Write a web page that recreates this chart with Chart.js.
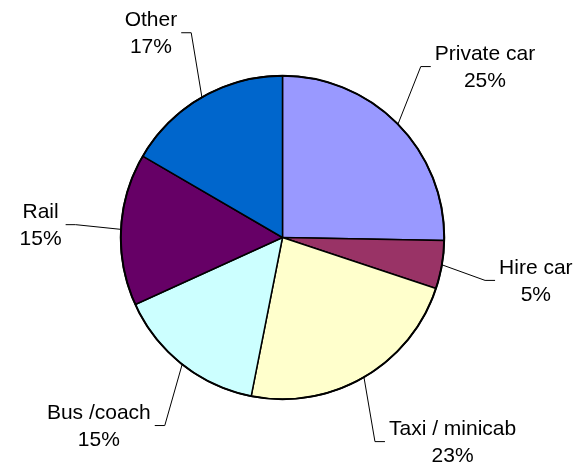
<!DOCTYPE html>
<html lang="en">
<head>
    <meta charset="UTF-8">
    <title>Transport share pie</title>
    <style>
        body {
            margin: 0;
            background: #ffffff;
        }
        canvas {
            display: block;
        }
    </style>
    <script src="https://cdn.jsdelivr.net/npm/chart.js"></script>
</head>
<body>

    <canvas id="pieChart" width="576" height="469"></canvas>

    <script>
        // data, clockwise from 12 o'clock
        const categories = ['Private car', 'Hire car', 'Taxi / minicab', 'Bus /coach', 'Rail', 'Other'];
        const shares = [25.3, 4.8, 23.0, 15.1, 15.2, 16.6];
        const sliceColors = ['#9999FF', '#993366', '#FFFFCC', '#CCFFFF', '#660066', '#0066CC'];

        // outside labels with a leader line, drawn after the slices
        const outsideLabels = {
            id: 'outsideLabels',
            afterDatasetsDraw(chart) {
                const ctx = chart.ctx;
                const arcs = chart.getDatasetMeta(0).data;
                const total = shares.reduce((a, b) => a + b, 0);
                const lineH = 27;
                const halfH = lineH / 2 + 8;

                ctx.save();
                // heavier outer rim like the original
                const a0 = arcs[0];
                ctx.beginPath();
                ctx.arc(a0.x, a0.y, a0.outerRadius, 0, Math.PI * 2);
                ctx.lineWidth = 2;
                ctx.strokeStyle = '#000';
                ctx.stroke();

                ctx.font = '21px "Liberation Sans", Arial, sans-serif';
                ctx.fillStyle = '#000';
                ctx.textAlign = 'center';
                ctx.textBaseline = 'middle';
                ctx.lineWidth = 1;

                arcs.forEach((arc, i) => {
                    const mid = (arc.startAngle + arc.endAngle) / 2;
                    const cx = arc.x, cy = arc.y, r = arc.outerRadius;
                    const dx = Math.cos(mid), dy = Math.sin(mid);

                    const line1 = categories[i];
                    const line2 = Math.round(shares[i] / total * 100) + '%';
                    const w = Math.max(ctx.measureText(line1).width, ctx.measureText(line2).width);

                    // nearest corner of the label box sits outside the rim,
                    // a little further out for the side labels
                    const gap = 48 + 12 * (1 - Math.abs(dy));
                    const ax = cx + dx * (r + gap);
                    const ay = cy + dy * (r + gap);
                    const side = dx >= 0 ? 1 : -1;
                    const vy = Math.max(-1, Math.min(1, dy * 1.6));
                    const lx = ax + side * w / 2;
                    const ly = ay + vy * halfH;

                    ctx.fillText(line1, lx, ly - lineH / 2 + 1);
                    ctx.fillText(line2, lx, ly + lineH / 2 + 1);

                    // leader line: pie edge -> short horizontal stub -> label side
                    const sideX = ax - side * 4;
                    const stubX = sideX - side * 10;
                    ctx.beginPath();
                    ctx.moveTo(cx + dx * r, cy + dy * r);
                    ctx.lineTo(stubX, ly);
                    ctx.lineTo(sideX, ly);
                    ctx.stroke();
                });
                ctx.restore();
            }
        };

        const ctx = document.getElementById('pieChart').getContext('2d');
        new Chart(ctx, {
            type: 'pie',
            data: {
                labels: categories,
                datasets: [{
                    data: shares,
                    backgroundColor: sliceColors,
                    borderColor: '#000000',
                    borderWidth: 1.5
                }]
            },
            options: {
                responsive: false,
                animation: false,
                layout: {
                    padding: { left: 120, top: 75, right: 131, bottom: 69 }
                },
                plugins: {
                    legend: { display: false },
                    tooltip: { enabled: false }
                }
            },
            plugins: [outsideLabels]
        });
    </script>

</body>
</html>
